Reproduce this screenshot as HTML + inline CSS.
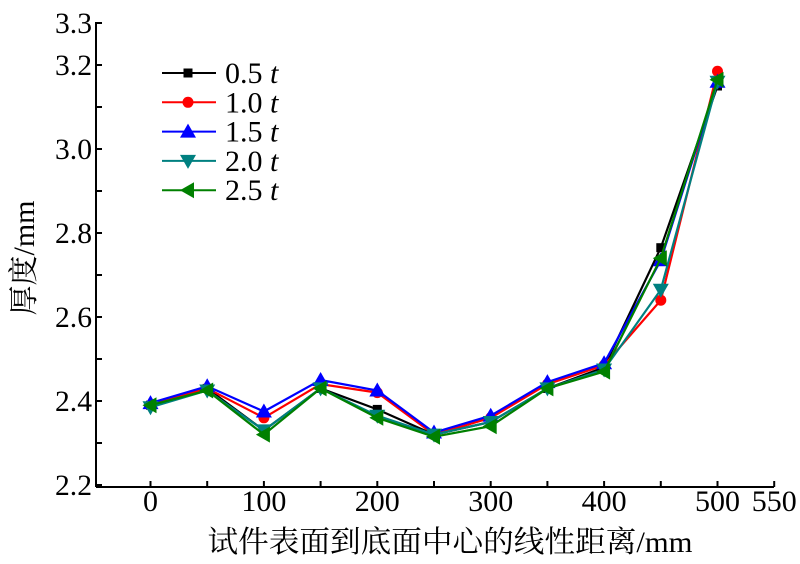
<!DOCTYPE html>
<html><head><meta charset="utf-8"><style>
body{margin:0;background:#fff}
svg text{font-family:"Liberation Serif","Noto Serif CJK SC",serif;fill:#000}
</style></head><body>
<svg id="chart" width="800" height="559"></svg>
<script>
const xValues=[0,50,100,150,200,250,300,350,400,450,500];
const s05=[2.39,2.43,2.33,2.43,2.38,2.32,2.35,2.43,2.48,2.765,3.15];
const s10=[2.39,2.43,2.36,2.44,2.42,2.32,2.36,2.44,2.485,2.64,3.185];
const s15=[2.395,2.435,2.375,2.45,2.425,2.325,2.365,2.445,2.49,2.735,3.16];
const s20=[2.385,2.425,2.33,2.43,2.365,2.32,2.35,2.43,2.475,2.665,3.16];
const s25=[2.39,2.425,2.32,2.43,2.36,2.315,2.34,2.43,2.47,2.74,3.165];
const seriesNames=["0.5","1.0","1.5","2.0","2.5"];
const xTickLabels=[0,100,200,300,400,500,550];
const yTickLabels=["2.2","2.4","2.6","2.8","3.0","3.2","3.3"];
const NS="http://www.w3.org/2000/svg";
const svg=document.getElementById('chart');
const X=v=>150.5+(v)*1.134;
const Y=v=>401-(v-2.4)*420;
function el(t,a,p){const e=document.createElementNS(NS,t);for(const k in a)e.setAttribute(k,a[k]);(p||svg).appendChild(e);return e;}
const axes=el('g',{});


el('line',{x1:96,y1:22,x2:96,y2:487,stroke:'#000','stroke-width':2},axes);
el('line',{x1:96,y1:487,x2:774,y2:487,stroke:'#000','stroke-width':2},axes);
for(let v=2.2;v<=3.301;v+=0.1){const y=Y(v);el('line',{x1:96,y1:y,x2:102,y2:y,stroke:'#000','stroke-width':2},axes);}
for(let v=0;v<=550;v+=50){const x=X(v);el('line',{x1:x,y1:487,x2:x,y2:481,stroke:'#000','stroke-width':2},axes);}
yTickLabels.forEach(l=>{const t=el('text',{x:92,y:Y(+l)+10,'text-anchor':'end','font-size':30,textLength:37,lengthAdjust:'spacingAndGlyphs'},axes);t.textContent=l;

});
xTickLabels.forEach(l=>{const t=el('text',{x:X(l),y:511,'text-anchor':'middle','font-size':30},axes);t.textContent=l;

});
const yt=el('text',{x:0,y:0,'text-anchor':'middle','font-size':30,transform:'translate(34,258) rotate(-90)'});
yt.textContent='厚度/mm';


const xt=el('text',{x:450,y:552,'text-anchor':'middle','font-size':30,textLength:485,lengthAdjust:'spacingAndGlyphs'});
xt.textContent='试件表面到底面中心的线性距离/mm';


const colors=['#000','#f00','#00f','#008080','#008000'];
const shapes=['square','circle','up','down','left'];
function marker(g,s,x,y,c){
 if(s==='square')el('rect',{x:x-4.5,y:y-4.5,width:9,height:9,fill:c},g);
 else if(s==='circle')el('circle',{cx:x,cy:y,r:5.5,fill:c},g);
 else if(s==='up')el('polygon',{points:`${x},${y-8} ${x-8},${y+6} ${x+8},${y+6}`,fill:c},g);
 else if(s==='down')el('polygon',{points:`${x},${y+8} ${x-8},${y-6} ${x+8},${y-6}`,fill:c},g);
 else el('polygon',{points:`${x-8},${y} ${x+6},${y-8} ${x+6},${y+8}`,fill:c},g);
}
[s05,s10,s15,s20,s25].forEach((s,i)=>{
 const g=el('g',{});
 
 
 el('polyline',{points:s.map((v,j)=>X(xValues[j])+','+Y(v)).join(' '),fill:'none',stroke:colors[i],'stroke-width':2.2},g);
 s.forEach((v,j)=>marker(g,shapes[i],X(xValues[j]),Y(v),colors[i]));
 const ly=73+i*29.3;
 const lg=el('g',{});
 
 
 el('line',{x1:162,y1:ly,x2:216,y2:ly,stroke:colors[i],'stroke-width':2},lg);
 marker(lg,shapes[i],188,ly,colors[i]);
 const t=el('text',{x:225,y:ly+10,'font-size':30},lg);
 t.innerHTML=seriesNames[i]+' <tspan font-style="italic">t</tspan>';
});
</script>
</body></html>
